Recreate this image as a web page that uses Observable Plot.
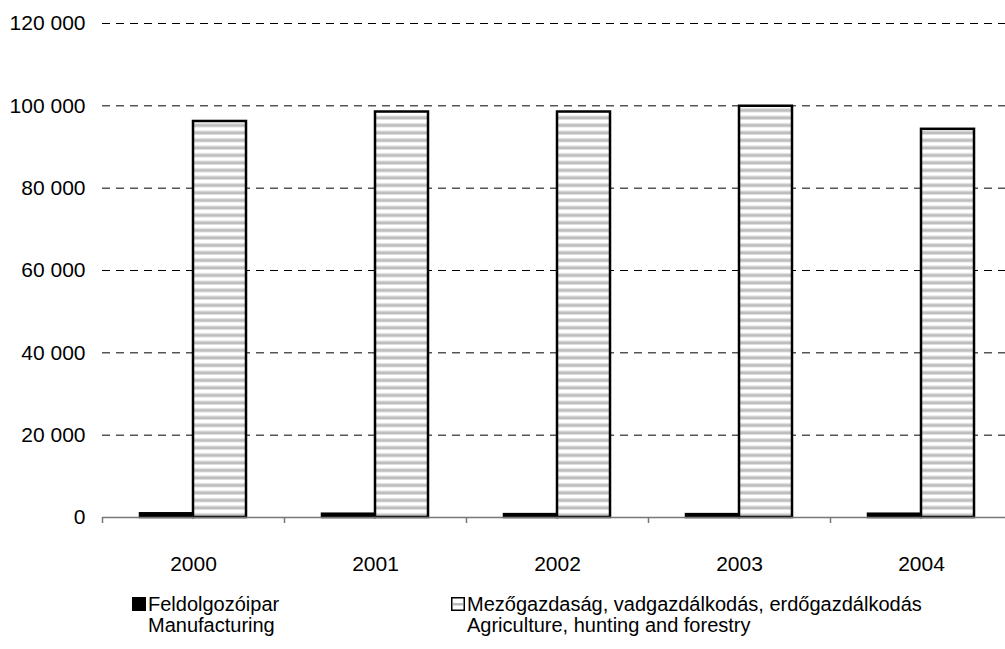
<!DOCTYPE html>
<html><head><meta charset="utf-8">
<script src="https://cdn.jsdelivr.net/npm/d3@7"></script>
<script src="https://cdn.jsdelivr.net/npm/@observablehq/plot@0.6"></script>
<style>
body{margin:0;overflow:hidden;background:#fff;font-family:"Liberation Sans",Arial,sans-serif}
#chart{position:relative;width:1005px;height:649px;overflow:hidden}
.leg{position:absolute;font-size:20px;line-height:21px;color:#000;white-space:nowrap}
.sw{position:absolute}
</style></head><body><div id="chart"></div>
<script>
const years = ["2000", "2001", "2002", "2003", "2004"];
const manufacturing = [900, 800, 700, 700, 800];
const agriculture = [96200, 98500, 98500, 99900, 94300];
const yTicks = [0, 20000, 40000, 60000, 80000, 100000, 120000];
const seriesNames = ["Feldolgozóipar", "Mezőgazdaság, vadgazdálkodás, erdőgazdálkodás"];
const seriesNamesEn = ["Manufacturing", "Agriculture, hunting and forestry"];

const manuData = years.map((y, i) => ({year: y, value: manufacturing[i]}));
const agriData = years.map((y, i) => ({year: y, value: agriculture[i]}));
const fmt = d => d3.format(",")(d).replace(/,/g, " ");
const FONT = '"Liberation Sans", Arial, sans-serif';

const plot = Plot.plot({
  width: 1005, height: 580,
  marginTop: 23, marginBottom: 63, marginLeft: 102, marginRight: -7,
  style: {fontFamily: FONT, fontSize: "21px", color: "#000", background: "transparent", overflow: "visible"},
  x: {domain: years, padding: 0, axis: null, label: null},
  y: {domain: [0, 120000], axis: null, label: null},
  marks: [
    Plot.ruleY(yTicks.filter(d => d > 0), {stroke: "#000", strokeDasharray: "8,6", strokeWidth: 1}),
    Plot.axisY(yTicks, {tickSize: 0, tickPadding: 17, tickFormat: fmt, fontSize: 21, label: null}),
    Plot.barY(manuData, {x: "year", y: "value", fill: "#000", stroke: "#000", strokeWidth: 2.5, insetLeft: 38, insetRight: 91}),
    Plot.barY(agriData, {x: "year", y: "value", fill: "url(#stripes)", stroke: "#000", strokeWidth: 2.5, insetLeft: 91, insetRight: 38}),
    Plot.ruleY([0], {stroke: "#777", strokeWidth: 1.5}),
    Plot.axisX(years, {tickSize: 6, tickFormat: () => "", dx: -91, stroke: "#777", strokeWidth: 1.5, label: null}),
    Plot.axisX(years, {tickSize: 0, tickPadding: 39, fontSize: 21, label: null})
  ]
});

const svg = d3.select(plot);
const defs = svg.insert("defs", ":first-child");
const pat = defs.append("pattern").attr("id", "stripes").attr("patternUnits", "userSpaceOnUse")
  .attr("width", 8).attr("height", 7.5);
pat.append("rect").attr("width", 8).attr("height", 7.5).attr("fill", "#fff");
pat.append("rect").attr("y", 3).attr("width", 8).attr("height", 1).attr("fill", "#e2e2e2");
pat.append("rect").attr("y", 4).attr("width", 8).attr("height", 3).attr("fill", "#bdbdbd");

const chart = document.getElementById("chart");
chart.appendChild(plot);

// legend (HTML, below the SVG)
const legend = document.createElement("div");
legend.style.cssText = "position:absolute;left:0;top:580px;width:1005px;height:69px";
chart.appendChild(legend);
const legX = [132, 451];
seriesNames.forEach((name, i) => {
  const sw = document.createElementNS("http://www.w3.org/2000/svg", "svg");
  sw.setAttribute("class", "sw");
  sw.setAttribute("width", 14); sw.setAttribute("height", 14);
  sw.style.left = legX[i] + "px"; sw.style.top = "17px";
  sw.innerHTML = i === 0
    ? '<rect x="0.75" y="0.75" width="12.5" height="12.5" fill="#000" stroke="#000" stroke-width="1.5"/>'
    : '<rect x="0.75" y="0.75" width="12.5" height="12.5" fill="#fff" stroke="#000" stroke-width="1.5"/><rect x="2" y="6" width="10" height="2.5" fill="#bdbdbd"/>';
  legend.appendChild(sw);
  const t = document.createElement("div");
  t.className = "leg";
  t.style.left = (legX[i] + 16) + "px"; t.style.top = "14px";
  t.innerHTML = name + "<br>" + seriesNamesEn[i];
  legend.appendChild(t);
});
</script>
</body></html>
